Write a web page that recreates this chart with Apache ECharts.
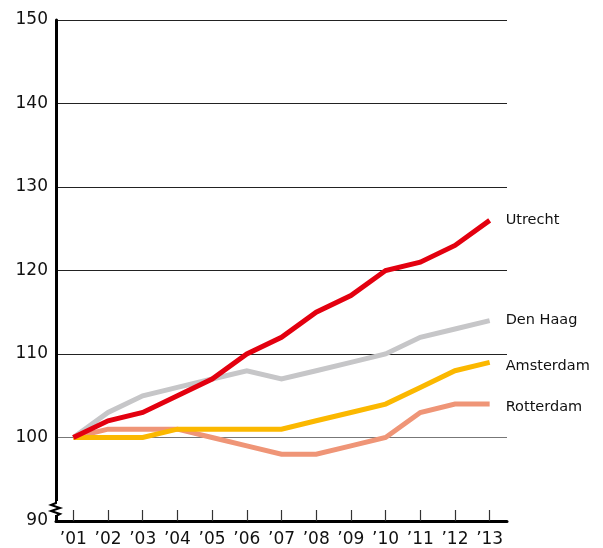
<!DOCTYPE html>
<html>
<head>
<meta charset="utf-8">
<script src="https://cdn.jsdelivr.net/npm/echarts@6/dist/echarts.min.js"></script>
<style>
  html, body { margin: 0; padding: 0; background: #fff; }
  #chart { width: 603px; height: 548px; }
</style>
</head>
<body>
<div id="chart"></div>
<script>
const years = ['’01', '’02', '’03', '’04', '’05', '’06', '’07', '’08', '’09', '’10', '’11', '’12', '’13']

const utrecht = [100, 102, 103, 105, 107, 110, 112, 115, 117, 120, 121, 123, 126]
const denHaag = [100, 103, 105, 106, 107, 108, 107, 108, 109, 110, 112, 113, 114]
const amsterdam = [100, 100, 100, 101, 101, 101, 101, 102, 103, 104, 106, 108, 109]
const rotterdam = [100, 101, 101, 101, 100, 99, 98, 98, 99, 100, 103, 104, 104]

const font = 'DejaVu Sans'

function cityLine(name, data, color, dy, z) {
  return {
    name: name,
    type: 'line',
    data: data,
    z: z,
    symbol: 'none',
    lineStyle: { color: color, width: 5, cap: 'butt', join: 'miter' },
    endLabel: {
      show: true,
      formatter: '{a}',
      color: '#111',
      fontFamily: font,
      fontSize: 14.5,
      distance: 16,
      offset: [0, dy],
    },
    emphasis: { disabled: true },
  }
}

const div = document.getElementById('chart')
const chart = echarts.init(div)
chart.setOption({
  animation: false,
  grid: { left: 56, right: 96, top: 20, bottom: 27 },
  xAxis: {
    type: 'category',
    data: years,
    boundaryGap: true,
    z: 10,
    axisLine: { lineStyle: { color: '#000', width: 3 } },
    axisTick: { show: true, alignWithLabel: true, inside: true, length: 11, interval: 0, lineStyle: { color: '#333', width: 1.2 } },
    axisLabel: { color: '#111', fontFamily: font, fontSize: 17, margin: 10, interval: 0 },
  },
  yAxis: {
    type: 'value',
    min: 90,
    max: 150,
    interval: 10,
    axisLine: { show: true, lineStyle: { color: '#000', width: 3 } },
    axisTick: { show: false },
    axisLabel: { color: '#111', fontFamily: font, fontSize: 17, margin: 8 },
    splitLine: { lineStyle: { color: ['#000', '#777', '#222', '#222', '#222', '#222', '#222'], width: 1 } },
  },
  series: [
    cityLine('Den Haag', denHaag, '#c6c6c8', 0, 2),
    cityLine('Rotterdam', rotterdam, '#ef9577', 3, 3),
    cityLine('Amsterdam', amsterdam, '#fbb800', 4, 4),
    cityLine('Utrecht', utrecht, '#e3000f', 0, 5),
  ],
})

// axis break zigzag near the bottom of the y axis
const p = chart.convertToPixel({ gridIndex: 0 }, [0, 90])
const x0 = 56
const yb = p[1]
chart.setOption({
  graphic: [
    {
      type: 'rect',
      shape: { x: x0 - 3, y: yb - 20, width: 6, height: 14 },
      style: { fill: '#fff' },
      z: 10,
    },
    {
      type: 'polyline',
      shape: { points: [[x0, yb - 22], [x0, yb - 18], [x0 - 5, yb - 16], [x0 + 4, yb - 13], [x0 - 5, yb - 10], [x0 + 4, yb - 7], [x0, yb - 5], [x0, yb]] },
      style: { stroke: '#000', lineWidth: 2, fill: null },
      z: 11,
    },
  ],
})
</script>
</body>
</html>
